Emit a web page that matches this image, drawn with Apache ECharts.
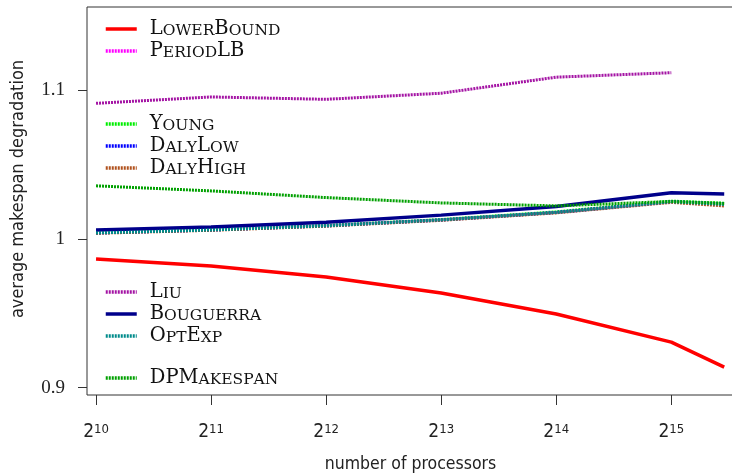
<!DOCTYPE html>
<html>
<head>
<meta charset="utf-8">
<script src="https://cdn.jsdelivr.net/npm/echarts@6/dist/echarts.min.js"></script>
<style>
  html, body { margin: 0; padding: 0; background: #fff; }
  #chart { width: 732px; height: 474px; }
</style>
</head>
<body>
<div id="chart"></div>
<script>
// number of processors, as log2 (last run is ~45000 processors)
const procLog2 = [10, 11, 12, 13, 14, 15, 15.46]
const xTicks = [10, 11, 12, 13, 14, 15]
const yTicks = [0.9, 1, 1.1]

const lowerBound = [0.9865, 0.9818, 0.9744, 0.9636, 0.9495, 0.9306, 0.9138]
const periodLB = [1.0040, 1.0060, 1.0088, 1.0128, 1.0178, 1.0250]
const young = [1.0042, 1.0062, 1.0090, 1.0130, 1.0182, 1.0254, 1.0240]
const dalyLow = [1.0040, 1.0060, 1.0088, 1.0127, 1.0178, 1.0250, 1.0234]
const dalyHigh = [1.0038, 1.0058, 1.0086, 1.0125, 1.0175, 1.0246, 1.0222]
const liu = [1.0912, 1.0955, 1.0939, 1.0980, 1.1088, 1.1118]
const bouguerra = [1.0060, 1.0080, 1.0112, 1.0160, 1.0218, 1.0310, 1.0302]
const optExp = [1.0040, 1.0060, 1.0088, 1.0128, 1.0178, 1.0250, 1.0232]
const dpMakespan = [1.0357, 1.0323, 1.0278, 1.0242, 1.0222, 1.0252, 1.0238]

const serif = "'DejaVu Serif', serif"
const sans = "'DejaVu Sans Condensed', 'DejaVu Sans', sans-serif"

const chart = echarts.init(document.getElementById('chart'))

const pairs = (vals) => vals.map((v, i) => [procLog2[i], v])

// 小型大写字母：大写字母正常大小，小写字母改成小号大写
const smallCaps = (name) => {
  let out = ''
  for (const ch of name) {
    if (ch >= 'a' && ch <= 'z') out += '{s|' + ch.toUpperCase() + '}'
    else out += '{c|' + ch + '}'
  }
  return out
}

const mkSeries = (name, vals, color, dashed, width) => ({
  name,
  type: 'line',
  data: pairs(vals),
  symbol: 'none',
  animation: false,
  lineStyle: {
    color,
    width,
    type: dashed ? [2, 1] : 'solid'
  },
  itemStyle: { color }
})

const legendBase = {
  orient: 'vertical',
  left: 104,
  padding: 0,
  itemWidth: 31,
  itemHeight: 14,
  itemGap: 2,
  formatter: smallCaps,
  // 图例只画线，不画圆点
  itemStyle: { opacity: 0, borderWidth: 0 },
  lineStyle: { width: 3.5 },
  textStyle: {
    padding: [0, 0, 0, 8],
    rich: {
      c: { fontFamily: serif, fontSize: 19.5, color: '#111', verticalAlign: 'bottom' },
      s: { fontFamily: serif, fontSize: 15.5, color: '#111', verticalAlign: 'bottom' }
    }
  }
}

const option = {
  backgroundColor: '#fff',
  animation: false,
  grid: {
    left: 87,
    top: 7,
    right: -2,
    bottom: 79,
    containLabel: false,
    outerBoundsMode: 'none',
    show: true,
    borderColor: '#333',
    borderWidth: 1
  },
  legend: [
    { ...legendBase, top: 19, data: ['LowerBound', 'PeriodLB'] },
    { ...legendBase, top: 114, data: ['Young', 'DalyLow', 'DalyHigh'] },
    { ...legendBase, top: 282, data: ['Liu', 'Bouguerra', 'OptExp'] },
    { ...legendBase, top: 368, data: ['DPMakespan'] }
  ],
  xAxis: {
    type: 'value',
    min: 9.9215,
    max: 15.545,
    name: 'number of processors',
    nameLocation: 'middle',
    nameGap: 60,
    nameTextStyle: { fontFamily: sans, fontSize: 17.5, color: '#222' },
    axisLine: { show: false },
    splitLine: { show: false },
    axisTick: {
      customValues: xTicks,
      length: 10,
      lineStyle: { color: '#333' }
    },
    axisLabel: {
      customValues: xTicks,
      margin: 28,
      formatter: (v) => '{b|2}{s|' + v + '}',
      rich: {
        b: { fontFamily: sans, fontSize: 19, color: '#222', verticalAlign: 'bottom' },
        s: { fontFamily: sans, fontSize: 13, color: '#222', verticalAlign: 'top' }
      }
    }
  },
  yAxis: {
    type: 'value',
    min: 0.895,
    max: 1.156,
    name: 'average makespan degradation',
    nameLocation: 'middle',
    nameGap: 60,
    nameTextStyle: { fontFamily: sans, fontSize: 18, color: '#222', padding: [0, 0, 0, 24] },
    axisLine: { show: false },
    splitLine: { show: false },
    axisTick: {
      customValues: yTicks,
      length: 9,
      lineStyle: { color: '#333' }
    },
    axisLabel: {
      customValues: yTicks,
      margin: 22,
      fontFamily: "'Liberation Serif', serif",
      fontSize: 19,
      color: '#222',
      formatter: (v) => String(Math.round(v * 10) / 10)
    }
  },
  series: [
    mkSeries('LowerBound', lowerBound, '#ff0000', false, 3.5),
    mkSeries('PeriodLB', periodLB, '#ff00ff', true, 3),
    mkSeries('Young', young, '#00ee00', true, 3),
    mkSeries('DalyLow', dalyLow, '#0000ff', true, 3),
    mkSeries('DalyHigh', dalyHigh, '#b0521e', true, 3),
    mkSeries('Liu', liu, '#a414a4', true, 3),
    mkSeries('Bouguerra', bouguerra, '#00008b', false, 3.5),
    mkSeries('OptExp', optExp, '#008b8b', true, 3),
    mkSeries('DPMakespan', dpMakespan, '#00a000', true, 3)
  ]
}

chart.setOption(option)
</script>
</body>
</html>
